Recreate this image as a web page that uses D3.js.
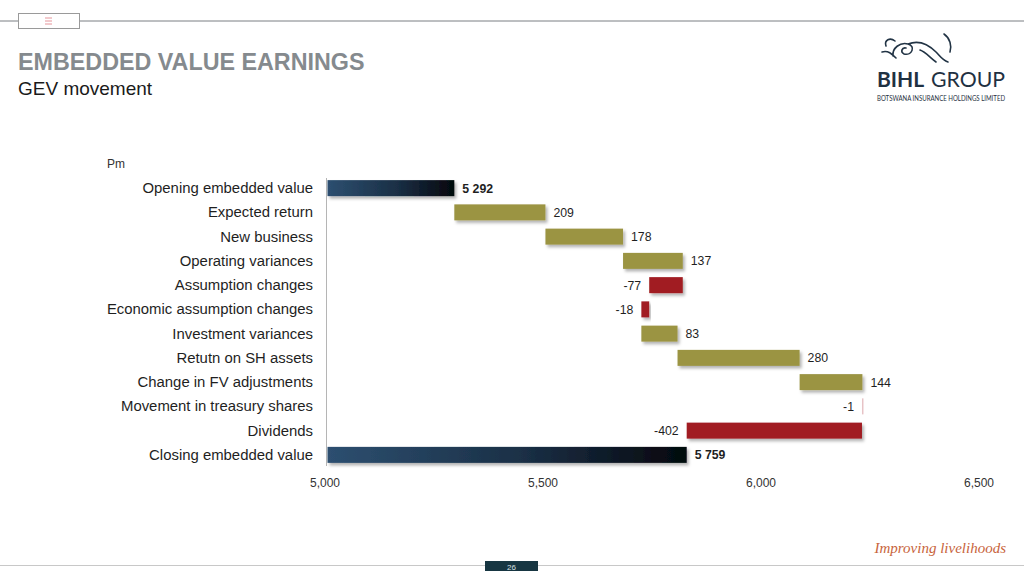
<!DOCTYPE html>
<html><head><meta charset="utf-8">
<script src="https://cdn.jsdelivr.net/npm/d3@7"></script>
<style>
html,body{margin:0;padding:0;background:#fff;}
svg{display:block;font-family:"Liberation Sans",Arial,sans-serif;}
</style></head>
<body>
<svg id="c" width="1024" height="576"></svg>
<script>
const categories = ["Opening embedded value","Expected return","New business","Operating variances","Assumption changes","Economic assumption changes","Investment variances","Retutn on SH assets","Change in FV adjustments","Movement in treasury shares","Dividends","Closing embedded value"];
const values = [5292, 209, 178, 137, -77, -18, 83, 280, 144, -1, -402, 5759];
const kinds = ["total","delta","delta","delta","delta","delta","delta","delta","delta","delta","delta","total"];
const tickValues = [5000, 5500, 6000, 6500];
const unitLabel = "Pm";

const svg = d3.select("#c");
const W = 1024, H = 576;

// ---- header ----
svg.append("line").attr("x1",0).attr("x2",W).attr("y1",21).attr("y2",21).attr("stroke","#7a7f83").attr("stroke-width",1);
svg.append("rect").attr("x",18.5).attr("y",13.5).attr("width",61).attr("height",15).attr("fill","#fff").attr("stroke","#9a9a9a").attr("stroke-width",1);
[18,21,24].forEach(yy=>svg.append("line").attr("x1",45).attr("x2",52).attr("y1",yy).attr("y2",yy).attr("stroke","#e07a80").attr("stroke-width",0.8));
svg.append("text").attr("x",18).attr("y",70).attr("font-size",23.3).attr("font-weight","bold").attr("fill","#858a8e").text("EMBEDDED VALUE EARNINGS");
svg.append("text").attr("x",18).attr("y",95).attr("font-size",19).attr("fill","#1a1a1a").text("GEV movement");

// logo
const lg = svg.append("g");
lg.append("path").attr("d","M886 46 C884 40 890 37 895 41 M882 52 C888 50 892 54 896 58 M893 56 C892 48 900 42 908 44 C916 46 912 56 904 54 M904 54 C900 52 902 47 906 48 M908 44 C918 40 928 44 936 52 C940 56 942 60 948 62 M920 50 C926 52 930 58 936 62 M944 34 C950 38 952 46 950 52")
  .attr("fill","none").attr("stroke","#223445").attr("stroke-width",1.6).attr("stroke-linecap","round");
lg.append("text").attr("x",877).attr("y",87).attr("font-size",21).attr("fill","#1f3142").attr("font-weight","bold").attr("font-family","Lato, 'Open Sans', sans-serif").text("BIHL");
lg.append("text").attr("x",931).attr("y",87).attr("font-size",21).attr("fill","#1f3142").attr("font-family","Lato, 'Open Sans', sans-serif").attr("textLength",74).attr("lengthAdjust","spacingAndGlyphs").text("GROUP");
lg.append("text").attr("x",877).attr("y",100.5).attr("font-size",7).attr("fill","#1f3142").attr("font-family","Lato, 'Open Sans', sans-serif").attr("textLength",128).attr("lengthAdjust","spacingAndGlyphs").text("BOTSWANA INSURANCE HOLDINGS LIMITED");

// footer
svg.append("line").attr("x1",0).attr("x2",W).attr("y1",565.5).attr("y2",565.5).attr("stroke","#c8c8c8").attr("stroke-width",1.2);
svg.append("rect").attr("x",485).attr("y",561).attr("width",53).attr("height",10).attr("fill","#173642");
svg.append("text").attr("x",511.5).attr("y",569.5).attr("text-anchor","middle").attr("font-size",8).attr("fill","#d8e0e4").text("26");
svg.append("text").attr("x",1006).attr("y",553).attr("text-anchor","end").attr("font-size",15).attr("font-style","italic").attr("fill","#c8643c").attr("font-family","'Liberation Serif', serif").text("Improving livelihoods");

// ---- chart ----
const defs = svg.append("defs");
const grad = defs.append("linearGradient").attr("id","tot").attr("x1","0%").attr("x2","100%").attr("y1","0%").attr("y2","0%");
grad.append("stop").attr("offset","0%").attr("stop-color","#2d4f70");
grad.append("stop").attr("offset","55%").attr("stop-color","#1a2f45");
grad.append("stop").attr("offset","100%").attr("stop-color","#04070d");
const f = defs.append("filter").attr("id","sh").attr("x","-10%").attr("y","-30%").attr("width","130%").attr("height","190%");
f.append("feDropShadow").attr("dx",2).attr("dy",2.5).attr("stdDeviation",1.5).attr("flood-color","#000").attr("flood-opacity",0.3);

const x = d3.scaleLinear().domain([5000, 6500]).range([325.5, 979.5]);
const y = d3.scaleBand().domain(categories).range([176, 467]).paddingInner(0.34).paddingOuter(0.17);

// compute waterfall
let run = 0;
const rows = categories.map((c,i)=>{
  const v = values[i];
  let x0, x1;
  if (kinds[i]==="total") {
    if (i===0) { run = v; }
    x0 = x.domain()[0]; x1 = run;
  } else {
    const s = run; run += v;
    x0 = Math.min(s, run); x1 = Math.max(s, run);
  }
  return {c, v, kind:kinds[i], x0, x1};
});

const dx = 1.5;
svg.append("line").attr("x1",x(5000)+1).attr("x2",x(5000)+1).attr("y1",178).attr("y2",466).attr("stroke","#b5b5b5").attr("stroke-width",1);

svg.append("g").selectAll("rect").data(rows).join("rect")
  .attr("x",d=>x(d.x0)+ (d.kind==="total"?2:dx))
  .attr("y",d=>y(d.c))
  .attr("width",d=>Math.max(1.5, x(d.x1)-x(d.x0)- (d.kind==="total"?2-dx:0)))
  .attr("height",y.bandwidth())
  .attr("fill",d=>d.kind==="total"?"url(#tot)":(d.v>=0?"#9b9443":(d.v===-1?"#e7c3c6":"#a11e24")))
  .attr("filter",d=>d.v===-1?null:"url(#sh)");

svg.append("g").selectAll("text").data(rows).join("text")
  .attr("x",313).attr("y",d=>y(d.c)+y.bandwidth()/2+5)
  .attr("text-anchor","end").attr("font-size",14.9).attr("fill","#1f1f1f")
  .text(d=>d.c);

const fmtTot = d3.formatLocale({decimal:".",thousands:" ",grouping:[3],currency:["",""]}).format(",d");
svg.append("g").selectAll("text").data(rows).join("text")
  .attr("x",d=> d.v<0 && d.kind!=="total" ? x(d.x0)+dx-8 : x(d.x1)+dx+8)
  .attr("y",d=>y(d.c)+y.bandwidth()/2+4.5)
  .attr("text-anchor",d=> d.v<0 && d.kind!=="total" ? "end":"start")
  .attr("font-size",12.3).attr("fill","#1f1f1f")
  .attr("font-weight",d=>d.kind==="total"?"bold":"normal")
  .text(d=>d.kind==="total"?fmtTot(d.v):String(d.v));

const fmtTick = d3.format(",");
const ax = svg.append("g").attr("transform","translate(-1,470)")
  .call(d3.axisBottom(x).tickValues(tickValues).tickFormat(fmtTick).tickSize(0).tickPadding(8));
ax.select(".domain").remove();
ax.selectAll("text").attr("font-size",12).attr("fill","#333").attr("font-family","'Liberation Sans',Arial,sans-serif");

svg.append("text").attr("x",107).attr("y",168).attr("font-size",12).attr("fill","#333").text(unitLabel);
</script>
</body></html>
